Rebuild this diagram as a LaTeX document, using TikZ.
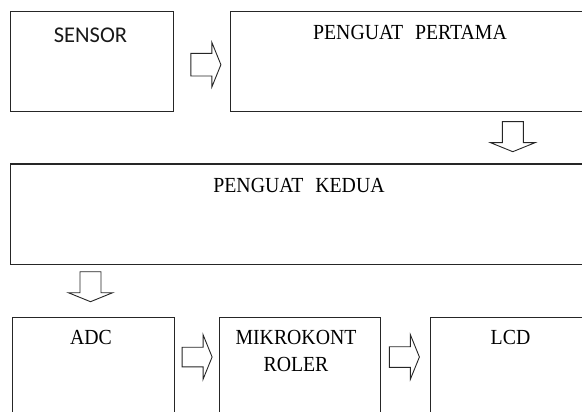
\documentclass[tikz,border=0pt]{standalone}
\usepackage{fontspec}
\setmainfont{Liberation Serif}
\newfontfamily\labelsans{Carlito}
\begin{document}
\begin{tikzpicture}[x=1pt,y=-1pt,
  box/.style={draw=black!85, line width=1.1pt, inner sep=0pt, anchor=north west},
  caption/.style={anchor=base, inner sep=0pt, text=black,
    font=\fontsize{21.5}{26}\selectfont, xscale=0.92, transform shape},
  sanscaption/.style={anchor=base, inner sep=0pt, text=black!90,
    font=\labelsans\fontsize{22.5}{27}\selectfont},
  flow/.style={draw=black!85, line width=0.9pt, fill=white, line join=miter},
  pics/blockarrow/.style={code={
    \draw[flow] (0,-#1) -- (21,-#1) -- (21,-22.2) -- (30,0) -- (21,22.2)
      -- (21,#1) -- (0,#1) -- cycle;}}
]
\useasboundingbox (0,0) rectangle (582,412);
\clip (0,0) rectangle (582,412);

% blocks
\node[box, minimum width=162.5pt, minimum height=100pt] (sensor) at (10,11) {};
\node[box, minimum width=360pt, minimum height=100pt] (pp) at (230,11) {};
\node[box, minimum width=580pt, minimum height=100pt] (pk) at (10,163.5) {};
\node[box, minimum width=162pt, minimum height=104pt] (adc) at (11.5,316.5) {};
\node[box, minimum width=161pt, minimum height=104pt] (mcu) at (218.5,316.5) {};
\node[box, minimum width=161pt, minimum height=104pt] (lcd) at (429.5,316.5) {};

% block titles
\node[sanscaption] (tsensor) at (90.5,42.7) {SENSOR};
\node[caption] (tpp) at (410,39.3) {PENGUAT\hspace{0.6em}PERTAMA};
\node[caption] (tpk) at (299,193) {PENGUAT\hspace{0.6em}KEDUA};
\node[caption] (tadc) at (91,344.3) {ADC};
\node[caption] (tmcu) at (296,344.3) {MIKROKONT};
\node[caption] (tmcu2) at (296,371) {ROLER};
\node[caption] (tlcd) at (510.5,344.3) {LCD};

% signal flow arrows
\coordinate (a1) at ([xshift=17.3pt]sensor.east |- 0,64.7);
\coordinate (a2) at (512.8,121.7);
\coordinate (a3) at (90.5,271.7);
\coordinate (a4) at ([xshift=7.5pt]adc.east |- 0,357);
\coordinate (a5) at ([xshift=8.8pt]mcu.east |- 0,357);
\pic at (a1) {blockarrow=11.3};
\pic[rotate=-90] at (a2) {blockarrow=10.5};
\pic[rotate=-90] at (a3) {blockarrow=10.5};
\pic at (a4) {blockarrow=9.8};
\pic at (a5) {blockarrow=10.3};
\end{tikzpicture}
\end{document}
